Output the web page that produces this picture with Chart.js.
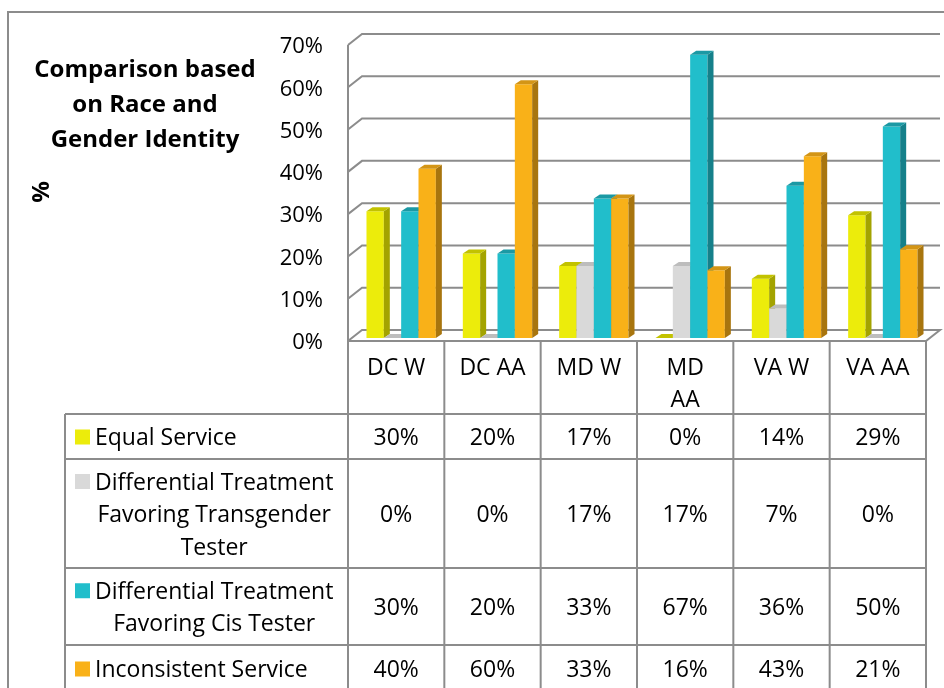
<!DOCTYPE html>
<html lang="en">
<head>
<meta charset="UTF-8" />
<title>Comparison based on Race and Gender Identity</title>
<style>
  body { margin: 0; background: #fff; }
  canvas { display: block; }
</style>
</head>
<body>
<canvas id="myChart" width="944" height="688"></canvas>
<script src="https://cdn.jsdelivr.net/npm/chart.js"></script>
<script>
// categories (MD AA is wrapped on two lines in the table header)
let categories = ["DC W", "DC AA", "MD W", ["MD", "AA"], "VA W", "VA AA"];

// series names, and how they wrap in the data table
let seriesNames = [
  "Equal Service",
  "Differential Treatment Favoring Transgender Tester",
  "Differential Treatment Favoring Cis Tester",
  "Inconsistent Service",
];
let seriesLines = [
  ["Equal Service"],
  ["Differential Treatment", "Favoring Transgender", "Tester"],
  ["Differential Treatment", "Favoring Cis Tester"],
  ["Inconsistent Service"],
];

// values in percent
let equalService = [30, 20, 17, 0, 14, 29];
let favorTransgender = [0, 0, 17, 17, 7, 0];
let favorCis = [30, 20, 33, 67, 36, 50];
let inconsistentService = [40, 60, 33, 16, 43, 21];

let yTicks = [0, 10, 20, 30, 40, 50, 60, 70];

// front / side / top colours of the 3d bars
let faceColors = ["#ECEC0B", "#D9D9D9", "#21BECB", "#F9B118"];
let sideColors = ["#A3A300", "#A6A6A6", "#15808A", "#A8750E"];
let topColors = ["#C2C200", "#BDBDBD", "#1B99A4", "#D39516"];

const FONT = "'Open Sans', Lato, sans-serif";
const GRID = "#8c8c8c";
const WX = 14, WY = -11; // depth of the walls
const BX = 6, BY = -4; // depth of a bar
const SHIFT = 5; // bars stand a little behind the front edge
const ROWS = [414, 459, 568, 645, 692]; // table row edges

function poly(ctx, pts, fill) {
  ctx.beginPath();
  ctx.moveTo(pts[0][0], pts[0][1]);
  for (let i = 1; i < pts.length; i++) ctx.lineTo(pts[i][0], pts[i][1]);
  ctx.closePath();
  ctx.fillStyle = fill;
  ctx.fill();
}

let threeD = {
  id: "threeD",
  beforeDatasetsDraw(chart) {
    let ctx = chart.ctx;
    let a = chart.chartArea;
    let ys = chart.scales.y;
    let front = (v) => ys.getPixelForValue(v) + 3;

    ctx.save();
    ctx.strokeStyle = GRID;
    ctx.lineWidth = 2;

    // gridlines on the side and back walls
    yTicks.forEach((v) => {
      let f = front(v);
      ctx.beginPath();
      ctx.moveTo(a.left, f);
      ctx.lineTo(a.left + WX, f + WY);
      ctx.lineTo(a.right + WX, f + WY);
      if (v === 0) {
        ctx.lineTo(a.right, f);
        ctx.lineTo(a.left, f);
      }
      ctx.stroke();
    });
    // front edge of the side wall
    ctx.beginPath();
    ctx.moveTo(a.left, front(yTicks[yTicks.length - 1]));
    ctx.lineTo(a.left, front(0));
    ctx.stroke();

    // bars
    chart.data.datasets.forEach((ds, i) => {
      chart.getDatasetMeta(i).data.forEach((el) => {
        let x0 = el.x - el.width / 2 + SHIFT;
        let x1 = x0 + el.width;
        let t = el.y;
        let b = el.base;
        poly(ctx, [[x0, b], [x1, b], [x1, t], [x0, t]], faceColors[i]);
        poly(ctx, [[x1, b], [x1 + BX, b + BY], [x1 + BX, t + BY], [x1, t]], sideColors[i]);
        poly(ctx, [[x0, t], [x1, t], [x1 + BX, t + BY], [x0 + BX, t + BY]], topColors[i]);
      });
    });
    ctx.restore();
    return false;
  },
  afterDraw(chart) {
    let ctx = chart.ctx;
    let a = chart.chartArea;
    let ys = chart.scales.y;
    let xs = chart.scales.x;
    let top = ys.getPixelForValue(0) + 3;
    let n = categories.length;
    let colW = (a.right - a.left) / n;
    let tableLeft = 65;

    ctx.save();
    ctx.strokeStyle = GRID;
    ctx.lineWidth = 2;

    // table grid
    for (let k = 0; k <= n; k++) {
      let x = a.left + k * colW;
      ctx.beginPath();
      ctx.moveTo(x, top);
      ctx.lineTo(x, ROWS[ROWS.length - 1]);
      ctx.stroke();
    }
    ctx.beginPath();
    ctx.moveTo(tableLeft, ROWS[0]);
    ctx.lineTo(tableLeft, ROWS[ROWS.length - 1]);
    ctx.stroke();
    ROWS.forEach((r) => {
      ctx.beginPath();
      ctx.moveTo(tableLeft, r);
      ctx.lineTo(a.right, r);
      ctx.stroke();
    });

    ctx.fillStyle = "#000";
    ctx.textBaseline = "middle";
    ctx.font = "23px " + FONT;

    // category header
    ctx.textAlign = "center";
    categories.forEach((c, k) => {
      let lines = Array.isArray(c) ? c : [c];
      let cx = xs.getPixelForValue(k);
      lines.forEach((ln, j) => ctx.fillText(ln, cx, top + 27 + j * 32));
    });

    // rows: legend key, series name and values
    chart.data.datasets.forEach((ds, i) => {
      let r0 = ROWS[i], r1 = ROWS[i + 1];
      let mid = (r0 + r1) / 2 + 2;
      let lines = seriesLines[i];
      let lh = 32.5;
      let firstY = mid - ((lines.length - 1) * lh) / 2;
      ctx.fillStyle = faceColors[i];
      ctx.fillRect(75, firstY - 9, 15, 15);
      ctx.fillStyle = "#000";
      let w = Math.max(...lines.map((l) => ctx.measureText(l).width));
      let bx = 95 + w / 2;
      ctx.textAlign = "center";
      lines.forEach((ln, j) => ctx.fillText(ln, bx, firstY + j * lh));
      ds.data.forEach((v, k) => {
        ctx.fillText(v + "%", xs.getPixelForValue(k), mid);
      });
    });

    // title and axis title
    ctx.font = "bold 24px " + FONT;
    ["Comparison based", "on Race and", "Gender Identity"].forEach((ln, j) =>
      ctx.fillText(ln, 145, 70 + j * 35)
    );
    ctx.save();
    ctx.translate(42, 192);
    ctx.rotate(-Math.PI / 2);
    ctx.fillText("%", 0, 0);
    ctx.restore();

    // outer frame
    ctx.strokeRect(8, 12, 1000, 1000);
    ctx.restore();
  },
};

let seriesValues = [equalService, favorTransgender, favorCis, inconsistentService];

let ctx = document.getElementById("myChart").getContext("2d");
let chart = new Chart(ctx, {
  type: "bar",
  data: {
    labels: categories,
    datasets: seriesValues.map((vals, i) => ({
      label: seriesNames[i],
      data: vals,
      backgroundColor: faceColors[i],
      barPercentage: 1,
      categoryPercentage: 0.72,
    })),
  },
  options: {
    responsive: false,
    animation: false,
    devicePixelRatio: 1,
    layout: { padding: { top: 42, right: 18, bottom: 350, left: 0 } },
    plugins: {
      legend: { display: false },
      tooltip: { enabled: false },
      title: { display: false },
    },
    scales: {
      x: { display: false },
      y: {
        min: 0,
        max: 70,
        afterFit: (s) => { s.width = 348; },
        afterBuildTicks: (s) => { s.ticks = yTicks.map((v) => ({ value: v })); },
        grid: { display: false, drawTicks: false },
        border: { display: false },
        ticks: {
          padding: 25,
          labelOffset: 5,
          color: "#000",
          font: { family: FONT, size: 22 },
          callback: (v) => v + "%",
        },
      },
    },
  },
  plugins: [threeD],
});
</script>
</body>
</html>
